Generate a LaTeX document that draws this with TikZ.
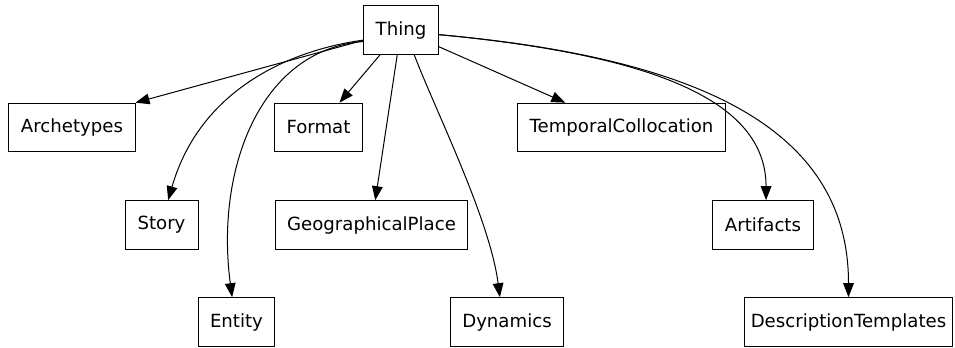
\documentclass[tikz,border=0pt]{standalone}
\usepackage{fontspec}
\setmainfont{DejaVu Sans}
\usetikzlibrary{arrows.meta,positioning}

\begin{document}
\begin{tikzpicture}[
  x=0.75pt, y=-0.75pt,
  font=\fontsize{13.6}{16}\selectfont,
  >={Triangle[length=10.5pt,width=8pt]},
  classbox/.style={draw, line width=0.75pt, inner xsep=9pt, minimum width=54.75pt, minimum height=36.5pt},
  link/.style={->, line width=0.75pt}
]
\useasboundingbox (0,0) rectangle (955,347);

% Root class.
\node[classbox] (thing) at (401,30) {Thing};

% First row of subclasses.
\node[classbox] (archetypes) at (72,127.5) {Archetypes};
\node[classbox] (format) at (318.5,127.5) {Format};
\node[classbox] (temporal) at (621.5,127.5) {TemporalCollocation};

% Second row.
\node[classbox] (story) at (161.5,225) {Story};
\node[classbox] (geoplace) at (371.5,225) {GeographicalPlace};
\node[classbox] (artifacts) at (763,225) {Artifacts};

% Third row.
\node[classbox] (entity) at (236.5,322) {Entity};
\node[classbox] (dynamics) at (507,322) {Dynamics};
\node[classbox, inner xsep=5pt] (templates) at (848.5,322) {DescriptionTemplates};

% Straight links.
\draw[link] (thing) -- (archetypes.north east);
\draw[link] (thing) -- (format);
\draw[link] (thing) -- (geoplace);
\draw[link] (thing) -- (temporal);

% Curved links.
\draw[link] (thing.195) .. controls +(-73,10) and +(32,-111) .. (story.75);
\draw[link] (thing.197) .. controls +(-103,8) and +(-17,-128) .. (entity.100);
\draw[link] (thing.-62) .. controls +(21,55) and +(-10,-78) .. (dynamics.106);
\draw[link] (thing.-7) .. controls +(211,20) and +(0,-101) .. (artifacts.83);
\draw[link] (thing.-7) .. controls +(281,25) and +(0,-158) .. (templates.north);

\end{tikzpicture}
\end{document}
